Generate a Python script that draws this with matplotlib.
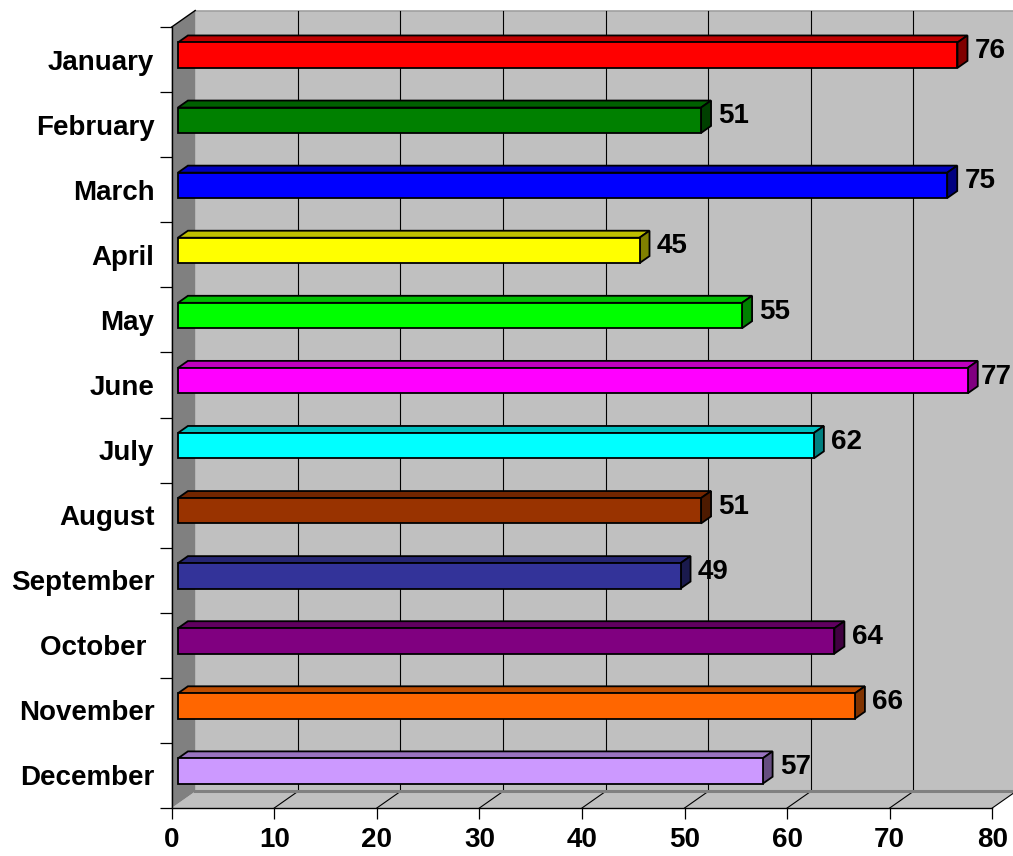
import matplotlib
matplotlib.use("Agg")
import matplotlib.pyplot as plt
from matplotlib.patches import Polygon
from matplotlib.colors import to_rgb

# ---------------- data ----------------
months = ["January", "February", "March", "April", "May", "June", "July",
          "August", "September", "October ", "November", "December"]
values = [76, 51, 75, 45, 55, 77, 62, 51, 49, 64, 66, 57]
colors = ["#FF0000", "#008000", "#0000FF", "#FFFF00", "#00FF00", "#FF00FF",
          "#00FFFF", "#993300", "#333399", "#800080", "#FF6600", "#CC99FF"]
xticks = [0, 10, 20, 30, 40, 50, 60, 70, 80]

# ---------------- geometry (pixels) ----------------
W, H, DPI = 1013, 856, 100
AX_L, AX_R, AX_T, AX_B = 171.7, 992.3, 27.0, 808.0
DEPTH_DX, DEPTH_DY = 23.5, 16.5        # offset of back plane, pixels
XMAX = 80
N = len(months)

px_per_x = (AX_R - AX_L) / XMAX
px_per_y = (AX_B - AX_T) / N
dxu = DEPTH_DX / px_per_x
dyu = DEPTH_DY / px_per_y

def sh(x, y, d):
    """shift a data point into depth d (0 front .. 1 back)"""
    return (x + d * dxu, y - d * dyu)

fig = plt.figure(figsize=(W / DPI, H / DPI), dpi=DPI)
ax = fig.add_axes([AX_L / W, (H - AX_B) / H, (AX_R - AX_L) / W, (AX_B - AX_T) / H])
ax.set_xlim(0, XMAX)
ax.set_ylim(N, 0)
ax.patch.set_visible(False)

FONT = "Liberation Sans"
FS = 20

# ---------------- walls ----------------
wall_col = "#C0C0C0"
# back wall
ax.add_patch(Polygon([sh(0, 0, 1), sh(XMAX, 0, 1), sh(XMAX, N, 1), sh(0, N, 1)],
                     closed=True, facecolor=wall_col, edgecolor="none",
                     clip_on=False, zorder=0))
ax.plot(*zip(sh(0, 0, 1), sh(XMAX + 1, 0, 1)), color="#A0A0A0", lw=1.2,
        clip_on=False, zorder=1)
# floor
ax.add_patch(Polygon([sh(0, N, 0), sh(XMAX, N, 0), sh(XMAX, N, 1), sh(0, N, 1)],
                     closed=True, facecolor=wall_col, edgecolor="none",
                     clip_on=False, zorder=0))
# left wall
ax.add_patch(Polygon([sh(0, 0, 0), sh(0, 0, 1), sh(0, N, 1), sh(0, N, 0)],
                     closed=True, facecolor="#808080", edgecolor="none",
                     clip_on=False, zorder=1))
ax.plot(*zip(sh(0, 0, 0), sh(0, 0, 1)), color="black", lw=1.0,
        clip_on=False, zorder=2)
# gridlines on back wall and floor diagonals
for t in xticks[1:]:
    ax.plot(*zip(sh(t, 0, 1), sh(t, N, 1)), color="black", lw=0.8,
            clip_on=False, zorder=1)
    ax.plot(*zip(sh(t, N, 0), sh(t, N, 1)), color="black", lw=0.8,
            clip_on=False, zorder=1)
# back-floor edge
ax.plot(*zip(sh(0, N, 1), sh(XMAX + 1, N, 1)), color="#808080", lw=2.2,
        clip_on=False, zorder=1.5)

# ---------------- bars ----------------
D0, D1 = 0.265, 0.69
BH = 0.39
labels = []
for i, (v, c) in enumerate(zip(values, colors)):
    yc = i + 0.5
    yt, yb = yc - BH / 2, yc + BH / 2
    rgb = to_rgb(c)
    top_c = tuple(0.75 * k for k in rgb)
    side_c = tuple(0.5 * k for k in rgb)
    kw = dict(closed=True, edgecolor="black", lw=1.3, clip_on=False,
              joinstyle="miter", zorder=3)
    ax.add_patch(Polygon([sh(0, yt, D0), sh(v, yt, D0), sh(v, yt, D1), sh(0, yt, D1)],
                         facecolor=top_c, **kw))
    ax.add_patch(Polygon([sh(v, yt, D0), sh(v, yb, D0), sh(v, yb, D1), sh(v, yt, D1)],
                         facecolor=side_c, **kw))
    ax.add_patch(Polygon([sh(0, yt, D0), sh(v, yt, D0), sh(v, yb, D0), sh(0, yb, D0)],
                         facecolor=rgb, **kw))
    lx, _ = sh(v, yt, D1)
    labels.append(ax.text(lx + 0.7, yc - 0.02, str(v), ha="left", va="baseline",
                          fontsize=FS, fontweight="bold", family=FONT,
                          clip_on=False, zorder=4))

# ---------------- axes ----------------
for s in ["top", "right"]:
    ax.spines[s].set_visible(False)
for s in ["left", "bottom"]:
    ax.spines[s].set_color("black")
    ax.spines[s].set_linewidth(1.0)
    ax.spines[s].set_zorder(2.5)

ax.set_xticks(xticks)
ax.set_xticklabels([str(t) for t in xticks], fontsize=FS, fontweight="bold",
                   family=FONT)
ax.tick_params(axis="x", direction="out", length=8, width=0.9, pad=6,
               color="black")

ax.set_yticks(range(N + 1))
ax.set_yticklabels([])
ax.tick_params(axis="y", which="major", direction="out", length=9, width=0.9,
               color="black")
ax.set_yticks([i + 0.5 for i in range(N)], minor=True)
ax.set_yticklabels(months, minor=True, fontsize=FS, fontweight="bold",
                   family=FONT)
ax.tick_params(axis="y", which="minor", length=0, pad=12.5)

# keep value labels inside the figure
fig.canvas.draw()
renderer = fig.canvas.get_renderer()
for t in labels:
    bb = t.get_window_extent(renderer)
    over = bb.x1 - (W - 1)
    if over > 0:
        x, y = t.get_position()
        t.set_x(x - over / px_per_x)

fig.savefig("out.png", dpi=DPI, facecolor="white")
